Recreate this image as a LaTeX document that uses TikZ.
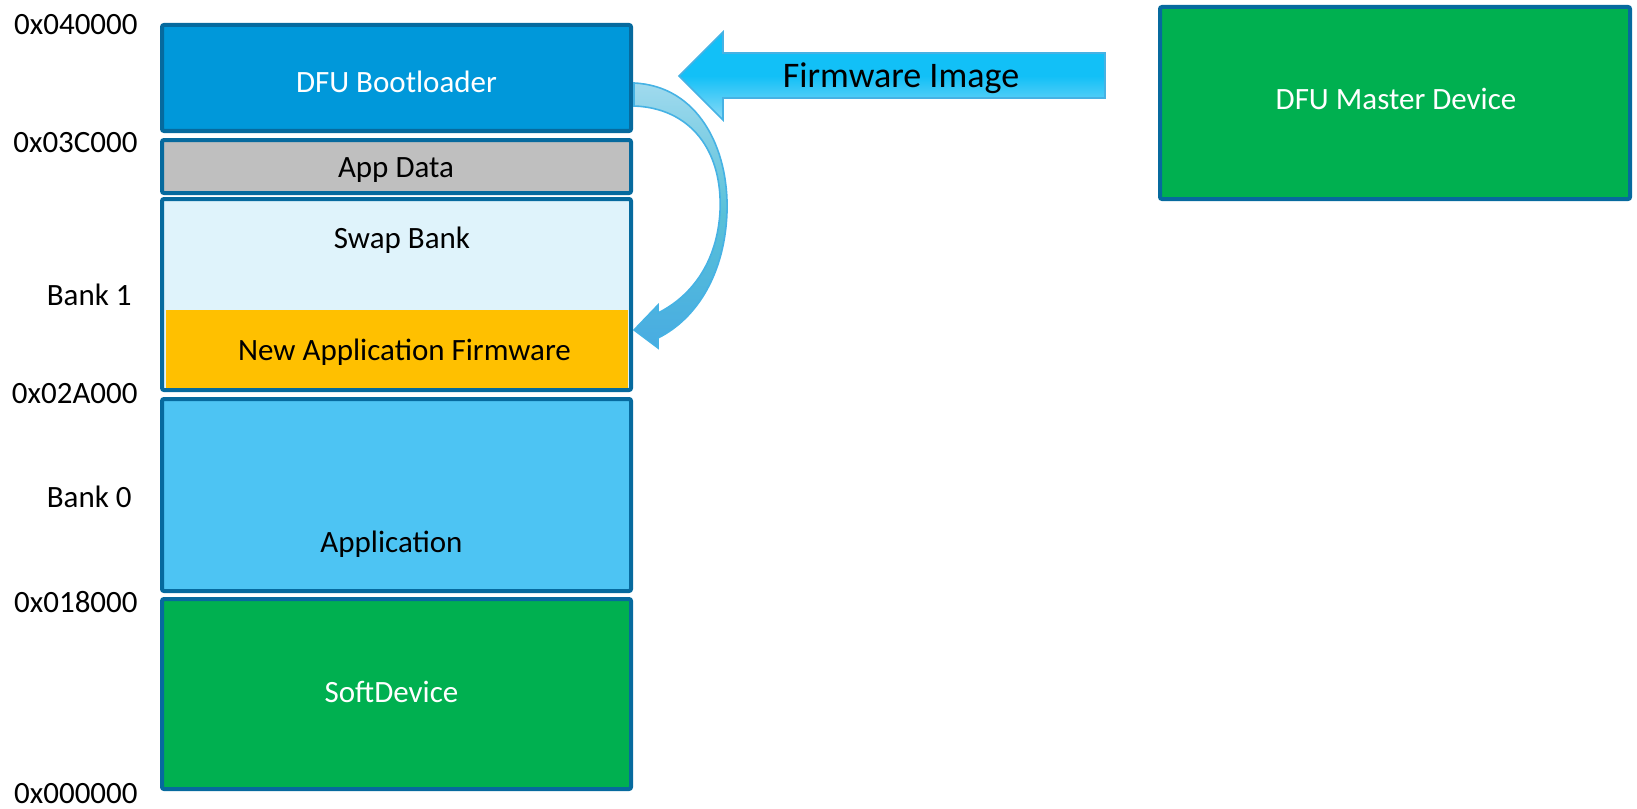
\documentclass[tikz,border=0pt]{standalone}
\usepackage{fontspec}
\setmainfont{Carlito}
\usepackage{xcolor,tikz}
\usetikzlibrary{arrows.meta,positioning,calc}
\definecolor{edgeblue}{RGB}{6,106,158}
\definecolor{bootblue}{RGB}{0,152,218}
\definecolor{datagray}{RGB}{191,191,191}
\definecolor{swapblue}{RGB}{223,243,251}
\definecolor{fworange}{RGB}{255,192,0}
\definecolor{appblue}{RGB}{77,196,243}
\definecolor{sdgreen}{RGB}{0,176,80}
\definecolor{imgtop}{RGB}{18,192,247}
\definecolor{imgbot}{RGB}{140,218,246}
\definecolor{imgline}{RGB}{70,178,228}
\definecolor{crvtop}{RGB}{160,218,238}
\definecolor{crvmid}{RGB}{88,192,216}
\definecolor{crvbot}{RGB}{72,172,226}

\begin{document}
\begin{tikzpicture}[x=0.5pt,y=-0.5pt,
  mem/.style={draw=edgeblue,line width=2pt,rounded corners=1pt,minimum width=234.5pt,inner sep=0pt},
  txt/.style={anchor=base,inner sep=0pt,font=\fontsize{15.5}{18}\selectfont},
  addr/.style={anchor=base east,inner sep=0pt,font=\fontsize{15.5}{18}\selectfont}]
\useasboundingbox (0,0) rectangle (1637,808);
\node[mem,fill=bootblue,minimum height=53pt] (boot) at (396.5,78) {};
\node[mem,fill=datagray,minimum height=26.5pt] (appdata) at (396.5,166.5) {};
\node[mem,fill=swapblue,minimum height=95.5pt] (bank1) at (396.5,294.5) {};
\node[fill=fworange,inner sep=0pt,minimum width=231pt,minimum height=39pt] (newfw) at (397,349) {};
\node[mem,fill=appblue,minimum height=96pt] (app) at (396.5,495) {};
\node[mem,fill=sdgreen,minimum height=95pt] (soft) at (396.5,694) {};
\node[mem,fill=sdgreen,minimum width=235pt,minimum height=96pt] (master) at (1395,103) {};
\node[txt,text=white] (boottxt) at (396.5,93) {DFU Bootloader};
\node[txt] (datatxt) at (396,177) {App Data};
\node[txt] (swaptxt) at (402,248) {Swap Bank};
\node[txt] (newfwtxt) at (404.5,360) {New Application Firmware};
\node[txt] (apptxt) at (391.5,552) {Application};
\node[txt,text=white] (softtxt) at (391.5,702) {SoftDevice};
\node[txt,text=white] (mastertxt) at (1396,110) {DFU Master Device};
\node[addr] (a40) at (138,35) {0x040000};
\node[addr] (a3c) at (138,152) {0x03C000};
\node[addr] (b1) at (132,305) {Bank 1};
\node[addr] (a2a) at (138,403) {0x02A000};
\node[addr] (b0) at (132,507) {Bank 0};
\node[addr] (a18) at (138,612) {0x018000};
\node[addr] (a00) at (138,803) {0x000000};
\draw[draw=imgline,line width=0.8pt,top color=imgtop,bottom color=imgbot,middle color=imgtop]
  (679,76) -- (723,32) -- (723,53) -- (1105,53) -- (1105,98) -- (723,98) -- (723,120) -- cycle;
\node[anchor=base,inner sep=0pt,font=\fontsize{18}{21}\selectfont] (imgtxt) at (901,88) {Firmware Image};
\draw[draw=imgline,line width=0.8pt,top color=crvtop,bottom color=crvbot,middle color=crvmid]
  (634,83) .. controls (698,86) and (729,148) .. (727,212)
  .. controls (725,272) and (698,318) .. (658,338)
  -- (658,348) -- (634,330) -- (658,305) -- (658,313)
  .. controls (692,296) and (717,262) .. (720,212)
  .. controls (723,150) and (690,108) .. (634,106) -- cycle;
\end{tikzpicture}
\end{document}
